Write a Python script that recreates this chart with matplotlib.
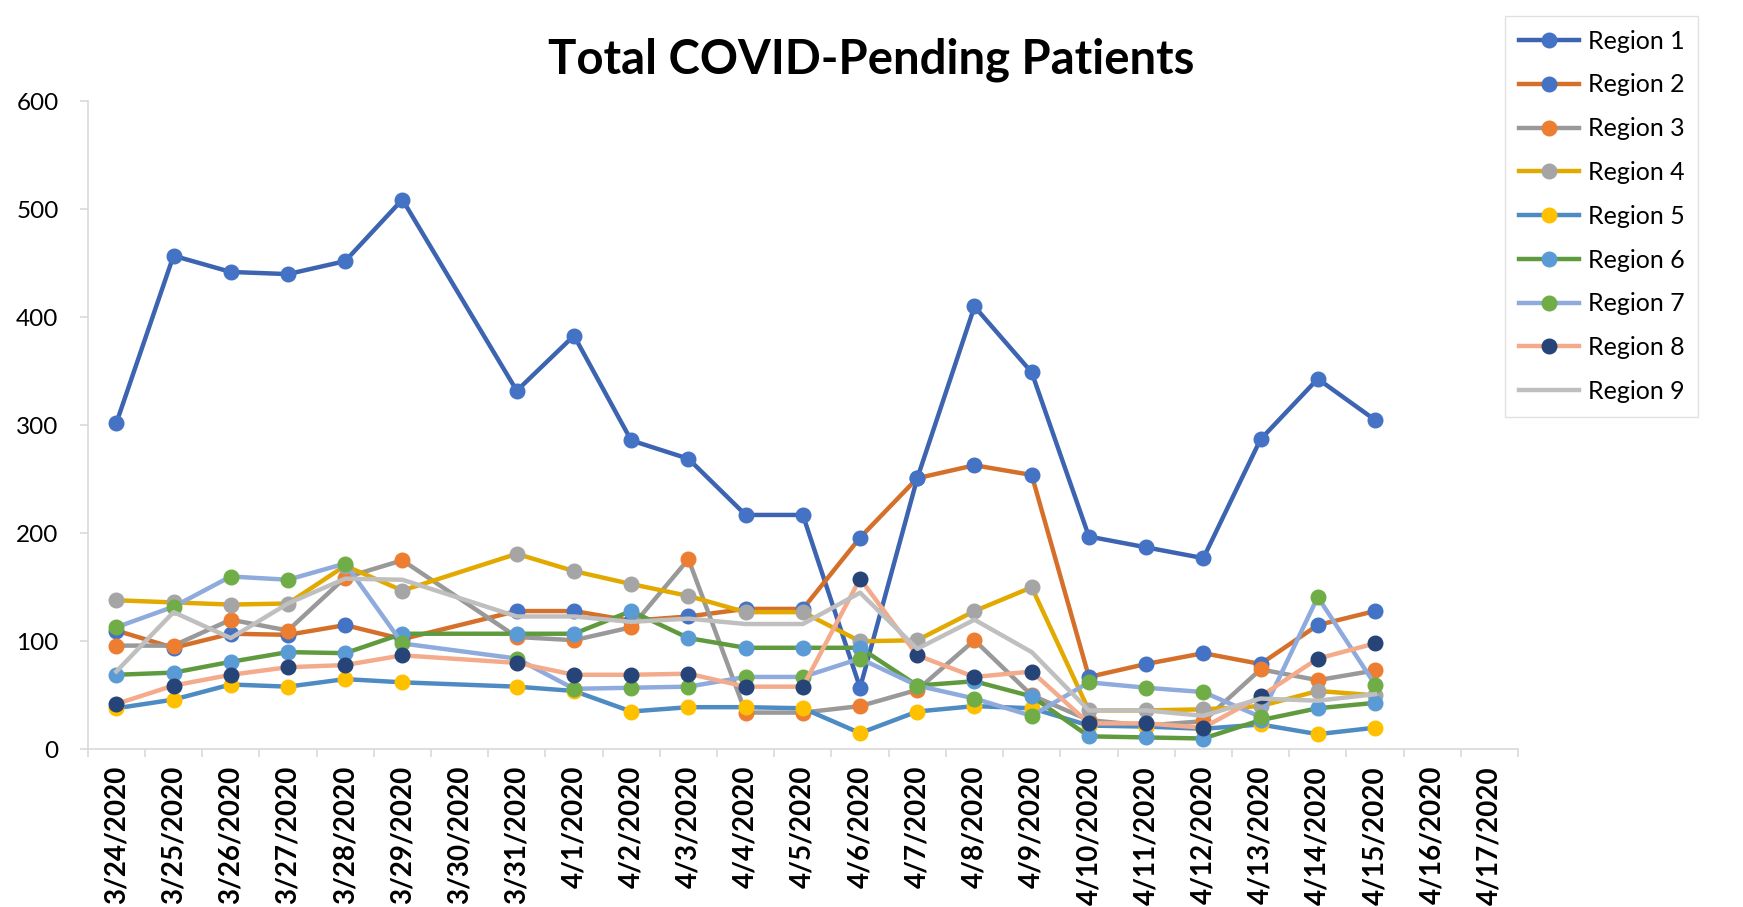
import numpy as np
import matplotlib.pyplot as plt

# Total COVID-pending patients per region, 3/30 has no data (None)
dates = ['3/24/2020', '3/25/2020', '3/26/2020', '3/27/2020', '3/28/2020', '3/29/2020',
         '3/30/2020', '3/31/2020', '4/1/2020', '4/2/2020', '4/3/2020', '4/4/2020',
         '4/5/2020', '4/6/2020', '4/7/2020', '4/8/2020', '4/9/2020', '4/10/2020',
         '4/11/2020', '4/12/2020', '4/13/2020', '4/14/2020', '4/15/2020', '4/16/2020',
         '4/17/2020']

region1 = [302, 457, 442, 440, 452, 509, None, 332, 383, 286, 269, 217, 217, 57, 251, 410, 349, 197, 187, 177, 287, 343, 305]
region2 = [110, 94, 107, 106, 115, 102, None, 128, 128, 119, 123, 130, 130, 196, 251, 263, 254, 67, 79, 89, 79, 115, 128]
region3 = [96, 96, 120, 110, 159, 175, None, 104, 101, 113, 176, 34, 34, 40, 55, 101, 50, 27, 22, 26, 74, 64, 73]
region4 = [138, 136, 134, 135, 170, 147, None, 181, 165, 153, 142, 127, 127, 100, 101, 128, 150, 36, 36, 37, 40, 54, 50]
region5 = [38, 46, 60, 58, 65, 62, None, 58, 54, 35, 39, 39, 38, 15, 35, 40, 38, 22, 21, 19, 23, 14, 20]
region6 = [69, 71, 81, 90, 89, 107, None, 107, 107, 128, 103, 94, 94, 94, 59, 63, 49, 12, 11, 10, 27, 38, 43]
region7 = [113, 132, 160, 157, 172, 98, None, 84, 56, 57, 58, 67, 67, 84, 59, 47, 31, 62, 57, 53, 30, 141, 60]
region8 = [42, 59, 69, 76, 78, 87, None, 80, 69, 69, 70, 58, 58, 158, 87, 67, 72, 24, 24, 20, 49, 84, 98]
region9 = [72, 127, 103, 135, 158, 157, None, 123, 123, 118, 121, 116, 116, 145, 93, 120, 90, 36, 36, 31, 47, 45, 51]

series = [region1, region2, region3, region4, region5, region6, region7, region8, region9]
names = ['Region %d' % (i + 1) for i in range(9)]
line_colors = ['#3C64B1', '#D5702B', '#999999', '#E2AA00', '#4E8BC3',
               '#5F9B3E', '#8FAADC', '#F4AB8C', '#BFBFBF']
marker_colors = ['#4472C4', '#4472C4', '#ED7D31', '#A5A5A5', '#FFC000',
                 '#5B9BD5', '#70AD47', '#264478', None]

plt.rcParams['font.family'] = ['Lato', 'DejaVu Sans']

W, H = 1743, 907
fig = plt.figure(figsize=(W / 100, H / 100), dpi=100)
ax = fig.add_axes([87.7 / W, 1 - 749.3 / H, (1518 - 87.7) / W, (749.3 - 101.3) / H])

for name, vals, lc, mc in zip(names, series, line_colors, marker_colors):
    # skip the missing day but keep the line connected
    x = [i for i, v in enumerate(vals) if v is not None]
    y = [v for v in vals if v is not None]
    if mc:
        ax.plot(x, y, color=lc, lw=3.2, marker='o', ms=10.5, mfc=mc, mec=mc,
                label=name, solid_joinstyle='round')
    else:
        ax.plot(x, y, color=lc, lw=3.2, label=name, solid_joinstyle='round')

ax.set_xlim(-0.5, len(dates) - 0.5)
ax.set_ylim(0, 600)
ax.set_yticks(range(0, 601, 100))
ax.tick_params(axis='y', labelsize=17.5, length=6, color='#D9D9D9', width=1.2, pad=15)

# tick marks between categories, labels on the categories
ax.set_xticks(np.arange(len(dates) + 1) - 0.5)
ax.set_xticklabels([])
ax.set_xticks(range(len(dates)), minor=True)
ax.set_xticklabels(dates, minor=True, rotation=90, fontsize=20, fontweight='bold')
ax.tick_params(axis='x', which='major', length=6, color='#D9D9D9', width=1.2)
ax.tick_params(axis='x', which='minor', length=0, pad=12)

for side in ['top', 'right']:
    ax.spines[side].set_visible(False)
for side in ['left', 'bottom']:
    ax.spines[side].set_color('#D9D9D9')
    ax.spines[side].set_linewidth(1.2)

fig.text(0.5, 1 - 74 / H, 'Total COVID-Pending Patients', ha='center', va='baseline',
         fontsize=34, fontweight='bold')

leg = fig.legend(loc='upper left', bbox_to_anchor=(1505 / W, 1 - 16 / H), borderaxespad=0,
                 fontsize=18, handlelength=2.4, labelspacing=0.83, fancybox=False,
                 edgecolor='#D9D9D9', borderpad=0.55, handletextpad=0.35)
leg.get_frame().set_linewidth(1.0)

fig.savefig('out.png', dpi=100)
